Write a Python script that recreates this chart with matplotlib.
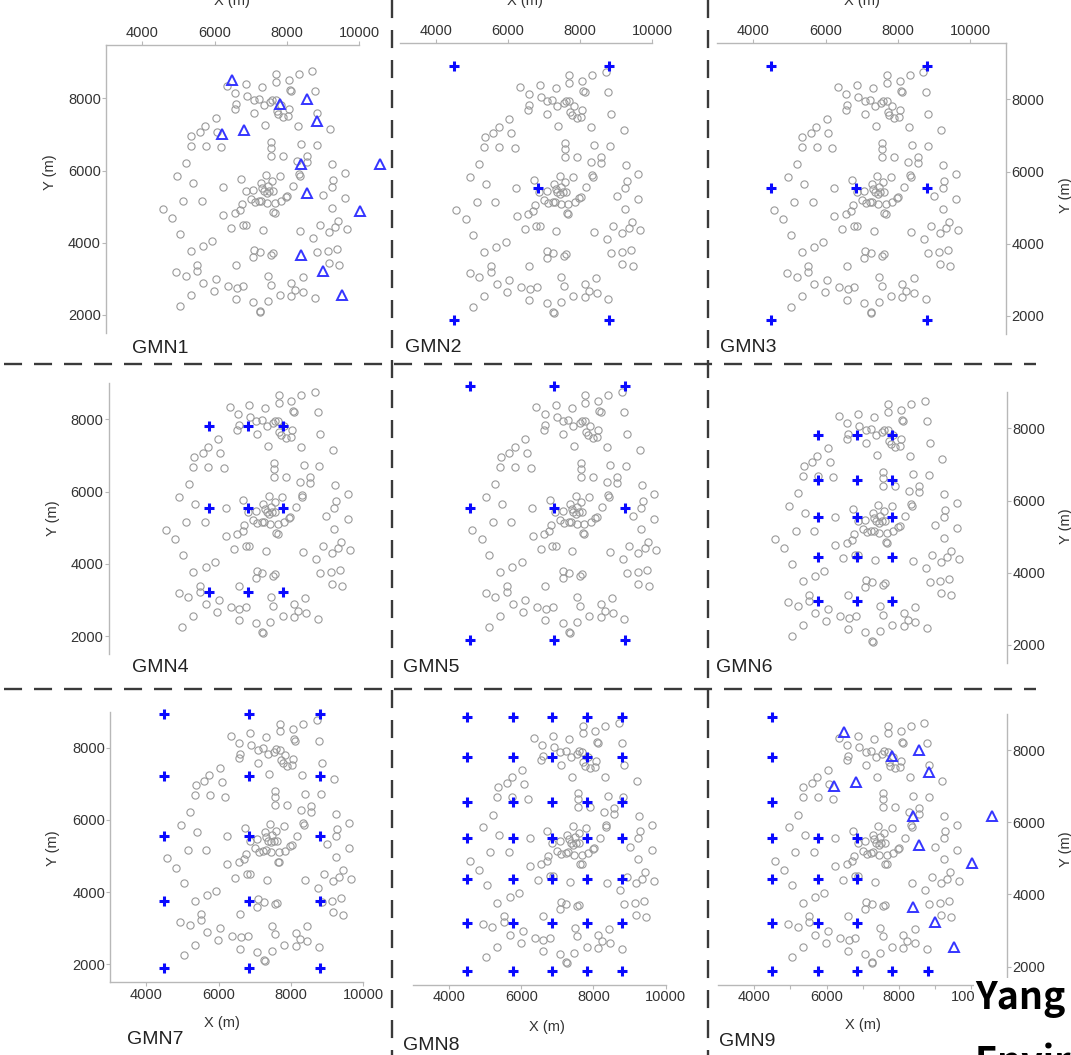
import matplotlib
matplotlib.use("Agg")
import matplotlib.pyplot as plt
from matplotlib.lines import Line2D

plt.rcParams['font.family'] = ['Liberation Sans', 'DejaVu Sans']
plt.rcParams['lines.scale_dashes'] = False

W, H = 1071, 1055
M_PER_PX = 6000 / 216.7          # metres per pixel on every panel

# ---- candidate / background well locations (m) ----
well_x = [8710, 7700, 7700, 8330, 8050, 6880, 6340, 7320, 8090, 8120,
          8780, 6570, 6910, 7080, 7230, 7370, 7540, 7600, 7690, 6590,
          6560, 7090, 7720, 7770, 7900, 8030, 8060, 8850, 7400, 8310,
          9200, 6030, 5740, 5600, 5360, 6080, 5340, 5750, 6190, 7570,
          7570, 7570, 7900, 8390, 8830, 8570, 8570, 8290, 5210, 9260,
          4950, 5390, 6230, 6720, 7430, 7800, 8340, 8360, 8170, 9610,
          9290, 9240, 5140, 5650, 4570, 4830, 5040, 6240, 6560, 6700,
          6750, 6460, 6790, 6880, 7340, 7630, 7670, 9010, 9610, 9240,
          8920, 8380, 8740, 9170, 9340, 9430, 9670, 5940, 5680, 5340,
          7090, 7250, 7070, 7550, 7610, 8850, 9150, 9400, 9170, 9450,
          5520, 5520, 4940, 5200, 5690, 6040, 6590, 7480, 7550, 8440,
          8130, 8240, 8460, 6370, 6610, 6800, 5980, 5340, 6590, 7070,
          7470, 7810, 8130, 8780, 5030, 7250, 7270, 7840,
          6860, 7070, 7280, 7320, 7370, 7440, 7520, 7610, 7480, 7590,
          7000, 7110, 7240, 7300, 7460, 7670, 7850, 7980, 8020]
well_y = [8760, 8670, 8460, 8670, 8520, 8400, 8330, 8300, 8230, 8190,
          8190, 8140, 8070, 7940, 7980, 7820, 7890, 7960, 7940, 7830,
          7710, 7590, 7660, 7570, 7490, 7520, 7690, 7590, 7260, 7240,
          7140, 7450, 7240, 7080, 6970, 7060, 6690, 6690, 6640, 6800,
          6630, 6410, 6410, 6730, 6710, 6390, 6230, 6270, 6210, 6170,
          5860, 5660, 5550, 5770, 5890, 5840, 5910, 5860, 5560, 5920,
          5750, 5550, 5170, 5170, 4940, 4680, 4250, 4780, 4830, 4920,
          5060, 4400, 4500, 4500, 4350, 4840, 4830, 5320, 5230, 4970,
          4490, 4330, 4120, 4310, 4430, 4610, 4370, 4040, 3920, 3760,
          3800, 3740, 3600, 3670, 3710, 3740, 3760, 3830, 3440, 3380,
          3390, 3230, 3180, 3090, 2890, 3000, 3390, 3070, 2840, 3050,
          2880, 2700, 2650, 2790, 2750, 2790, 2670, 2550, 2440, 2350,
          2380, 2550, 2520, 2480, 2260, 2120, 2090, 7810,
          5420, 5470, 5660, 5530, 5420, 5380, 5420, 5420, 5580, 5700,
          5210, 5120, 5150, 5170, 5100, 5100, 5150, 5270, 5300]

# ---- existing monitoring wells (triangles) ----
tri_x = [6470, 7810, 8550, 8850, 6220, 6820, 8390, 10580, 8550, 10030, 8390, 8990, 9520]
tri_y = [8510, 7840, 7990, 7380, 7010, 7120, 6170, 6170, 5370, 4870, 3660, 3230, 2550]

# ---- designed network nodes (crosses) ----
gmn2_x = [4500, 8800, 6840, 4500, 8800]
gmn2_y = [8920, 8920, 5550, 1890, 1890]
gmn3_x = [4500, 8800, 4500, 6840, 8800, 4500, 8800]
gmn3_y = [8920, 8920, 5550, 5550, 5550, 1890, 1890]
gmn4_cols, gmn4_rows = [5770, 6840, 7810], [7820, 5550, 3210]
gmn5_cols, gmn5_rows = [4500, 6840, 8800], [8920, 5550, 1890]
gmn6_cols, gmn6_rows = [5770, 6840, 7810], [7820, 6560, 5550, 4440, 3210]
gmn7_cols, gmn7_rows = [4500, 6840, 8800], [8920, 7230, 5550, 3760, 1890]
gmn8_cols = [4500, 5770, 6840, 7810, 8800]
gmn8_rows = [8920, 7820, 6560, 5550, 4440, 3210, 1890]
gmn9_x = [4500, 4500, 4500, 4500, 4500, 4500, 4500,
          5770, 5770, 5770, 5770, 6840, 6840, 6840, 6840, 7810, 8800]
gmn9_y = [8920, 7820, 6560, 5550, 4440, 3210, 1890,
          5550, 4440, 3210, 1890, 5550, 4440, 3210, 1890, 1890, 1890]

x_ticks = [4000, 6000, 8000, 10000]
y_ticks = [2000, 4000, 6000, 8000]


def grid(cols, rows):
    return [c for r in rows for c in cols], [r for r in rows for c in cols]


# a: pixel position of X=4000 / Y=8000; sp: visible spines with their extent
# (top spine also carries the data height it sits at)
panels = [
    dict(name="GMN1", a=(142.3, 98.3),
         sp={"top": (3000, 10000, 9480), "left": (1500, 9480)},
         tri=True, cross=None, lab=(132, 348)),
    dict(name="GMN2", a=(435.7, 99.3), sp={"top": (3000, 10000, 9550)},
         tri=False, cross=(gmn2_x, gmn2_y), lab=(405, 347)),
    dict(name="GMN3", a=(753.3, 99.3),
         sp={"top": (3000, 11000, 9550), "right": (1500, 9550)},
         tri=False, cross=(gmn3_x, gmn3_y), lab=(720, 347)),
    dict(name="GMN4", a=(145.0, 419.3), sp={"left": (1500, 9000)},
         tri=False, cross=grid(gmn4_cols, gmn4_rows), lab=(132, 668)),
    dict(name="GMN5", a=(451.7, 419.3), sp={},
         tri=False, cross=grid(gmn5_cols, gmn5_rows), lab=(403, 667)),
    dict(name="GMN6", a=(754.4, 428.3), sp={"right": (1500, 9000)},
         tri=False, cross=grid(gmn6_cols, gmn6_rows), lab=(716, 668)),
    dict(name="GMN7", a=(146.4, 747.7), sp={"left": (1500, 9000), "bottom": (3000, 10000)},
         tri=False, cross=grid(gmn7_cols, gmn7_rows), lab=(127, 1040)),
    dict(name="GMN8", a=(449.0, 750.0), sp={"bottom": (3000, 10000)},
         tri=False, cross=grid(gmn8_cols, gmn8_rows), lab=(403, 1045)),
    dict(name="GMN9", a=(754.3, 750.0), sp={"bottom": (3000, 11000), "right": (1500, 9000)},
         tri=True, cross=(gmn9_x, gmn9_y), lab=(719, 1042)),
]

fig = plt.figure(figsize=(W / 100, H / 100), dpi=100)

SPINE_C = "#b8b8b8"
TEXT_C = "#333333"


def ftext(x, y, s, **kw):
    return fig.text(x / W, 1 - y / H, s, **kw)


for p in panels:
    x4, y8 = p["a"]
    left = x4 - 1000 / M_PER_PX
    top = y8 - 1600 / M_PER_PX
    wpx = 8000 / M_PER_PX
    hpx = 8100 / M_PER_PX
    ax = fig.add_axes([left / W, 1 - (top + hpx) / H, wpx / W, hpx / H])
    ax.set_xlim(3000, 11000)
    ax.set_ylim(1500, 9600)
    ax.patch.set_alpha(0)

    for s in ax.spines.values():
        s.set_visible(False)
    for side, ext in p["sp"].items():
        sp = ax.spines[side]
        sp.set_visible(True)
        sp.set_bounds(ext[0], ext[1])
        if side == "top":
            sp.set_position(("data", ext[2]))
        sp.set_color(SPINE_C)
        sp.set_linewidth(1.0)

    xs = [s for s in ("top", "bottom") if s in p["sp"]]
    ys = [s for s in ("left", "right") if s in p["sp"]]
    if xs:
        ax.set_xticks(x_ticks)
        ax.set_xticklabels([str(t) for t in x_ticks])
        ax.xaxis.set_ticks_position(xs[0])
    else:
        ax.set_xticks([])
    if ys:
        ax.set_yticks(y_ticks)
        ax.set_yticklabels([str(t) for t in y_ticks])
        ax.yaxis.set_ticks_position(ys[0])
    else:
        ax.set_yticks([])
    ax.tick_params(axis="both", which="both", direction="out", length=2.6, width=0.8,
                   color=SPINE_C, labelcolor=TEXT_C, labelsize=10.5, pad=1.2)
    if p["name"] == "GMN9":
        ax.set_xticks([5000, 7000, 9000], minor=True)
        ax.tick_params(axis="x", which="minor", length=2.6, width=0.8, color=SPINE_C)

    ax.plot(well_x, well_y, linestyle="none", marker="o", ms=5.2, mfc="none",
            mec="#9a9a9a", mew=0.8, clip_on=False, zorder=2)
    if p["tri"]:
        ax.plot(tri_x, tri_y, linestyle="none", marker="^", ms=6.5, mfc="none",
                mec="#3535ff", mew=1.4, clip_on=False, zorder=3)
    if p["cross"] is not None:
        cx, cy = p["cross"]
        ax.plot(cx, cy, linestyle="none", marker="+", ms=7.5, mec="#0a0aff",
                mew=2.2, clip_on=False, zorder=4)

    lx, ly = p["lab"]
    ftext(lx, ly, p["name"], ha="left", va="center", fontsize=14, color="#222222")

# axis titles (top ones run off the upper edge)
for x in (232, 525, 862):
    ftext(x, 5, "X (m)", ha="center", va="baseline", fontsize=10.5, color=TEXT_C)
for x, y in ((222, 1023), (547, 1027), (863, 1025)):
    ftext(x, y, "X (m)", ha="center", va="center", fontsize=10.5, color=TEXT_C)
for x, y in ((50, 172), (53, 518), (53, 848)):
    ftext(x, y, "Y (m)", ha="center", va="center", rotation=90, fontsize=10.5, color=TEXT_C)
for x, y in ((1066, 195), (1066, 526), (1066, 849)):
    ftext(x, y, "Y (m)", ha="center", va="center", rotation=90, fontsize=10.5, color=TEXT_C)

# dashed panel separators
DASH = dict(color="#3a3a3a", lw=1.7, dashes=(13, 8.6))
for y in (364, 689):
    fig.add_artist(Line2D([4 / W, 1036 / W], [1 - y / H, 1 - y / H], **DASH))
for x in (392, 708):
    fig.add_artist(Line2D([x / W, x / W], [1.0, 0.0], **DASH))

# citation text
CITE_FONT = ["Noto Sans CJK JP", "DejaVu Sans"]
ftext(975, 1009, "Yang", ha="left", va="baseline", fontsize=27, fontweight="bold",
      family=CITE_FONT, color="black",
      bbox=dict(facecolor="white", edgecolor="none", pad=1))
ftext(975, 1074, "Envir", ha="left", va="baseline", fontsize=27, fontweight="bold",
      family=CITE_FONT, color="black")

fig.savefig("out.png", dpi=100)
